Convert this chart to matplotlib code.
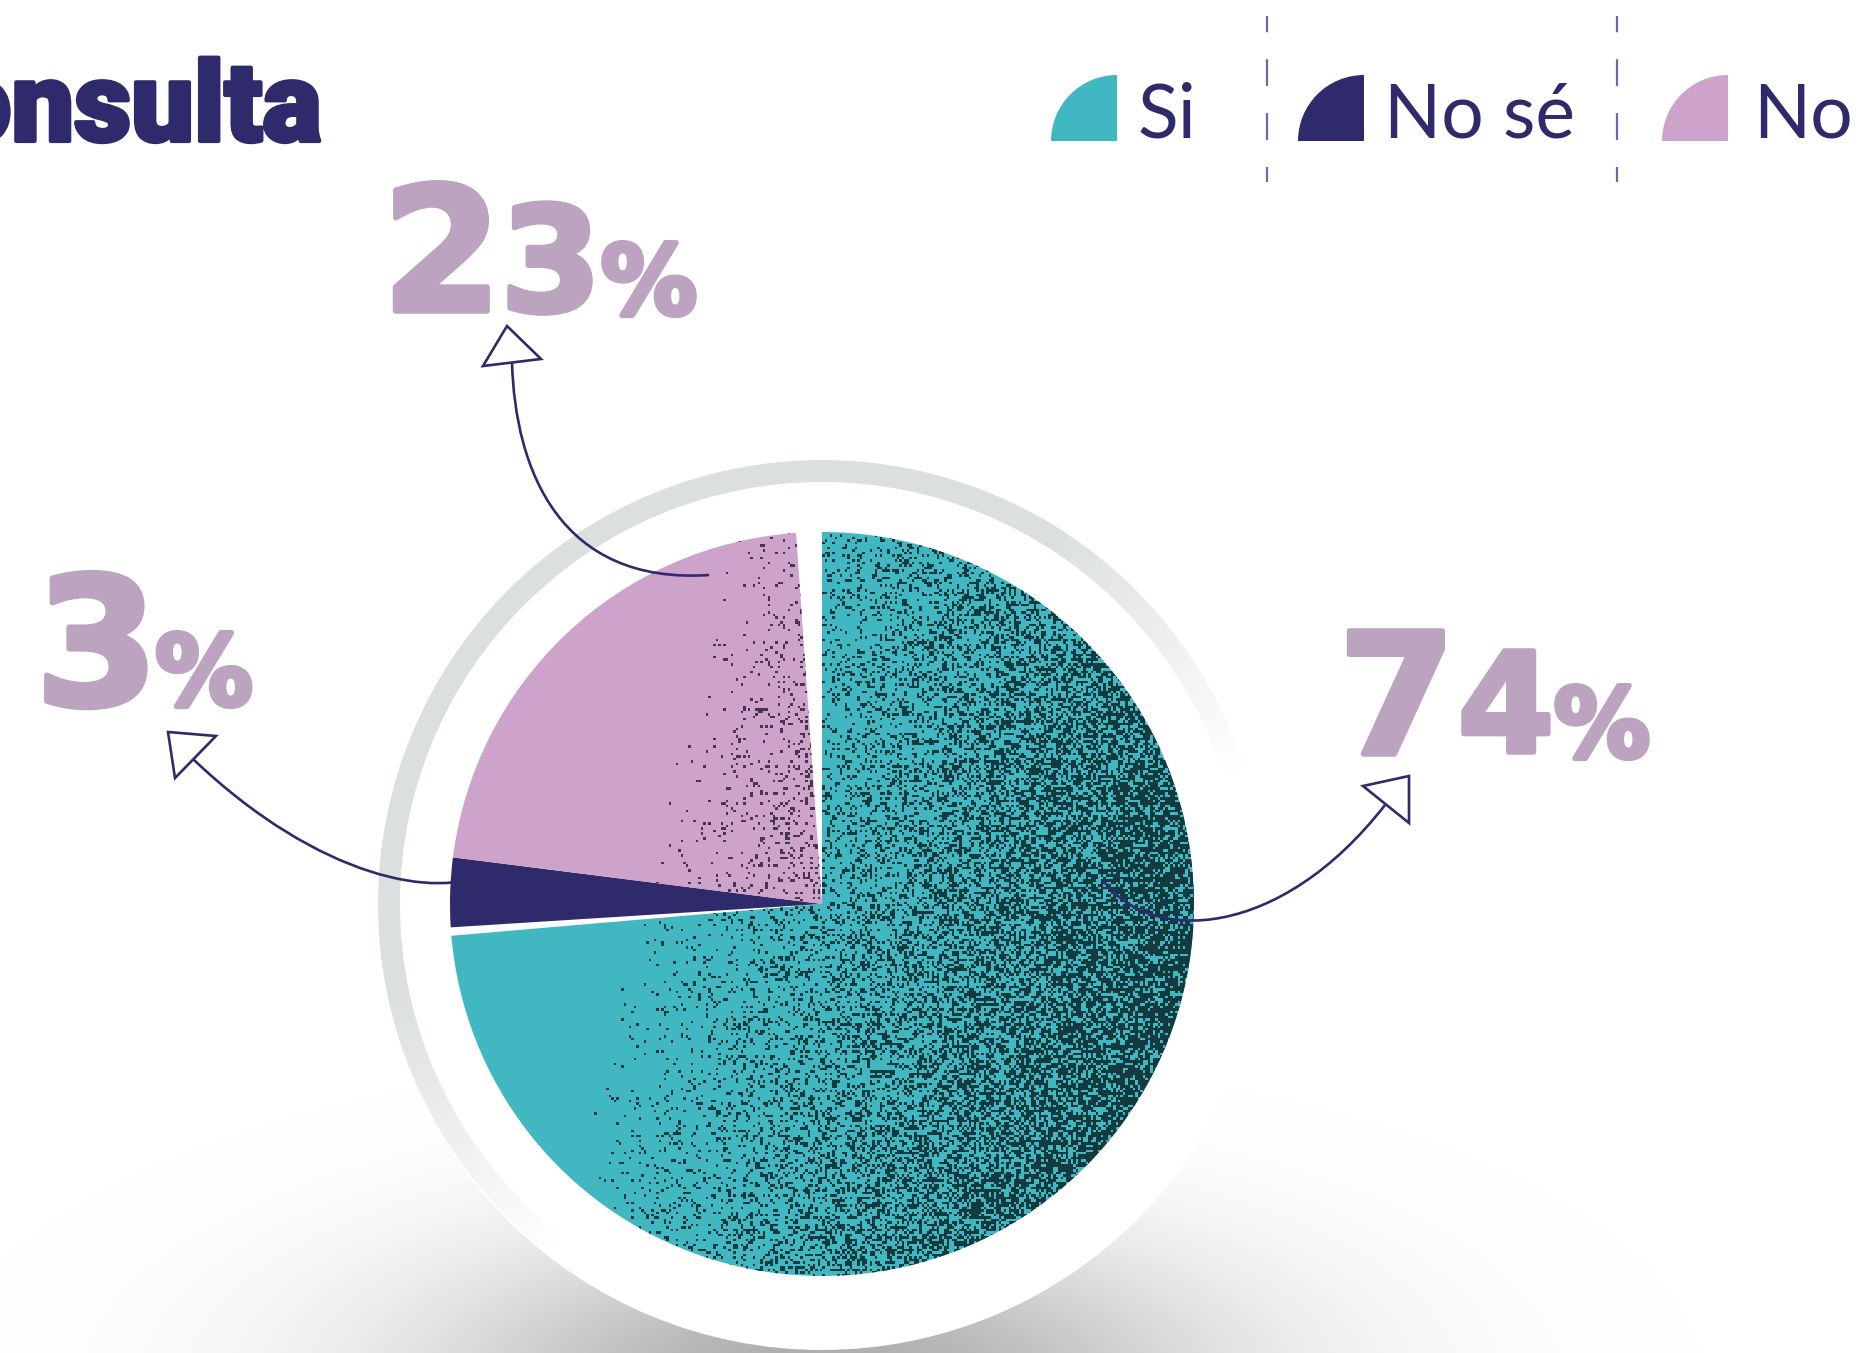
import numpy as np
import matplotlib.pyplot as plt
import matplotlib.patheffects as pe
from matplotlib.patches import Wedge, Circle, Polygon, PathPatch
from matplotlib.path import Path

plt.rcParams['lines.scale_dashes'] = False

W, H = 1860, 1353

# data
categories = ['Si', 'No sé', 'No']
values = [74, 3, 23]
colors = ['#40b7c1', '#2f2a6b', '#cda2cb']
title = 'Consulta'

NAVY = '#2f2a6b'
LABEL = '#bca4c1'
DIGITS = 'DejaVu Sans'
HEAVY = 'Roboto'
LIGHT = 'Lato'


def Y(y):
    # picture rows (top down) -> data y (bottom up)
    return H - y


def pt(px):
    # digit height in px -> font size in points (stroke adds a few px)
    return (px - 5) / 0.729 * 0.72


fig = plt.figure(figsize=(W / 100, H / 100), dpi=100)
ax = fig.add_axes([0, 0, 1, 1])

cx, cy, R = 822, Y(904), 372

# soft shadow under the white disc
sx = np.linspace(0, W, 400)
sy = np.linspace(0, Y(1040), 120)
SX, SY = np.meshgrid(sx, sy)
sh = np.zeros(SX.shape + (4,))
sh[..., :3] = 0.35
sh[..., 3] = 0.5 * np.exp(-((SX - cx) / 400) ** 2 - ((SY - Y(1380)) / 150) ** 2)
ax.imshow(sh, extent=[0, W, 0, Y(1040)], origin='lower', aspect='auto',
          interpolation='bilinear', zorder=1)
ax.add_patch(Circle((cx, cy), 446, facecolor='white', edgecolor='none', zorder=2))

# grey ring fading toward lower right
rr = 444
g = np.linspace(-rr, rr, 400)
GX, GY = np.meshgrid(g, g)
ang = np.arctan2(GY, GX)
ring_img = np.ones(GX.shape + (4,))
ring_img[..., :3] = [0.865, 0.875, 0.88]
ring_img[..., 3] = np.clip((np.cos(ang - np.deg2rad(125)) + 0.3) / 0.7, 0, 1)
im = ax.imshow(ring_img, extent=[cx - rr, cx + rr, cy - rr, cy + rr], origin='lower',
               interpolation='bilinear', zorder=3)
ring = Wedge((cx, cy), rr, 0, 360, width=22, facecolor='none', edgecolor='none')
ax.add_patch(ring)
im.set_clip_path(ring)

# pie
wedges, _ = ax.pie(values, colors=colors, startangle=90, counterclock=False,
                   center=(cx, cy), radius=R, wedgeprops=dict(linewidth=0))
wedges[0].set_theta1(wedges[0].theta1 + 1.3)   # gap teal / navy
wedges[2].set_theta1(wedges[2].theta1 + 4)     # gap pink / teal at top
for w in wedges:
    w.set_zorder(4)

# speckle texture, denser to the right
n = 300
t = np.linspace(-1, 1, n)
TU, TV = np.meshgrid(t, t)
dens = 0.75 * np.clip((TU - 0.25 * TV + 0.5) / 1.5, 0, 1) ** 1.1
rng = np.random.default_rng(7)
mask = rng.random((n, n)) < dens
for w, dot in [(wedges[0], (0.07, 0.2, 0.22)), (wedges[2], (0.25, 0.19, 0.25))]:
    tex = np.zeros((n, n, 4))
    tex[..., :3] = dot
    tex[..., 3] = mask * 0.95
    ti = ax.imshow(tex, extent=[cx - R, cx + R, cy - R, cy + R], origin='lower',
                   interpolation='nearest', zorder=5)
    ti.set_clip_path(w)

# arrows
curves = [
    [(709, 575), (560, 585), (515, 470), (512, 362)],
    [(487, 872), (440, 900), (320, 880), (193, 759)],
    [(1103, 880), (1150, 945), (1280, 940), (1385, 805)],
]
heads = [
    [(507, 326), (483, 366), (541, 359)],
    [(168, 732), (216, 736), (175, 778)],
    [(1409, 776), (1363, 786), (1409, 823)],
]
for c in curves:
    verts = [(x, Y(y)) for x, y in c]
    ax.add_patch(PathPatch(Path(verts, [Path.MOVETO, Path.CURVE4, Path.CURVE4, Path.CURVE4]),
                           fill=False, edgecolor=NAVY, lw=1.9, zorder=6))
for hd in heads:
    ax.add_patch(Polygon([(x, Y(y)) for x, y in hd], closed=True, facecolor='white',
                         edgecolor=NAVY, lw=1.9, joinstyle='miter', zorder=7))

# percentage labels: first digit biggest, then smaller, then %
label_pos = {
    74: [(1397, 754, 128), (1506, 752, 106), (1602, 757, 75)],
    3: [(97, 705, 135), (204, 705, 76)],
    23: [(442, 311, 131), (551, 311, 111), (649, 314, 75)],
}
heavy_fx = [pe.withStroke(linewidth=4, foreground=LABEL)]
for v in values:
    chars = list(str(v)) + ['%']
    for ch, (x, y, hpx) in zip(chars, label_pos[v]):
        ax.text(x, Y(y), ch, ha='center', va='baseline', fontsize=pt(hpx),
                fontweight='bold', family=DIGITS, color=LABEL, zorder=8,
                path_effects=heavy_fx)

# title (cut at the left edge, as in the source)
ax.text(322, Y(141), title, ha='right', va='baseline', fontsize=80,
        fontweight='black', family=HEAVY, color=NAVY,
        path_effects=[pe.withStroke(linewidth=3, foreground=NAVY)])

# legend
leg_right = [1117, 1364, 1728]
leg_text = [1138, 1384, 1753]
for lab, col, xr, xt in zip(categories, colors, leg_right, leg_text):
    ax.add_patch(Wedge((xr, Y(141)), 66, 90, 180, facecolor=col, edgecolor='none'))
    ax.text(xt, Y(137), lab, ha='left', va='baseline', fontsize=54,
            fontweight='normal', family=LIGHT, color=NAVY)
for xd in [1267, 1617]:
    ax.plot([xd, xd], [Y(182), Y(16)], color='#6b69a8', lw=1.6,
            linestyle=(8.6, (19.4, 19.4)))

ax.set_xlim(0, W)
ax.set_ylim(0, H)
ax.set_aspect('auto')
ax.axis('off')
fig.savefig('out.png', dpi=100, facecolor='white')
